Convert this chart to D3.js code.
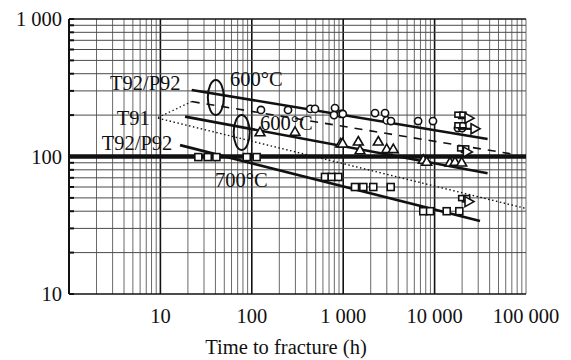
<!DOCTYPE html>
<html><head><meta charset="utf-8">
<script src="https://cdn.jsdelivr.net/npm/d3@7"></script>
<style>
html,body{margin:0;padding:0;background:#fff;}
svg text{font-family:"Liberation Serif","Times New Roman",serif;fill:#111;}
</style></head>
<body><svg id="c" width="571" height="360"></svg>
<script>
// ---- data ----
const xTickValues = [10, 100, 1000, 10000, 100000];
const xTickLabels = ["10", "100", "1 000", "10 000", "100 000"];
const yTickValues = [10, 100, 1000];
const yTickLabels = ["10", "100", "1 000"];
const xTitle = "Time to fracture (h)";

// fitted lines [x, y]
const lineP92_600 = [[22, 305], [38000, 134]];
const lineT91_600 = [[22, 251], [72000, 104]];
const lineT91_650 = [[9.4, 190], [98000, 42]];
const leaderT91 = [[9.4, 192], [22, 251]];
const lineP92_650 = [[18.6, 195], [38000, 75.5]];
const lineP92_700 = [[16.4, 121], [31400, 34]];
const refStress = 100;

// test points [hours, MPa]
const circles = [[126,218],[249,218],[437,222],[491,222],[813,225],[793,200],[950,204],[990,204],[2230,207],[2870,207],[3000,183],[3330,181],[6600,181],[9600,181],[18000,161],[20000,161]];
const triangles = [[123,146],[297,147],[940,121],[985,121],[1463,125],[1527,108],[2421,125],[2992,110],[3533,110],[7520,92],[8200,89],[14740,88],[16720,89],[19790,88]];
const squares = [[26,99],[33,99],[41,99],[88,99],[113,99],[632,71],[748,71],[884,71],[1346,60],[1660,60],[2134,60],[3310,60],[7520,40],[8910,40],[13560,40],[18630,40]];
// running tests: [start h, arrow h, MPa]
const runStarts = [18000, 18000, 19300, 19800];
const runEnds = [28400, 24400, 23400, 24400];
const runStress = [159, 190, 108, 47];

// annotations
const labelTexts = ["T92/P92", "600°C", "T91", "600°C", "T92/P92", "700°C"];
const labelX = [2.81, 57.7, 3.33, 122.9, 2.28, 39.6];
const labelY = [304.5, 325.6, 169.5, 155.9, 111.5, 60.0];
const ellipseX = [40.4, 77.5];
const ellipseY = [268.6, 149.5];

// ---- drawing ----
const svg = d3.select("#c");
const x = d3.scaleLog().domain([1, 100000]).range([69, 526]);
const y = d3.scaleLog().domain([10, 1000]).range([294, 19]);
const FS = 20.5;

const grid = svg.append("g");
// vertical grid
const xMinor = [];
for (let d = 1; d < 100000; d *= 10) for (let k = 1; k <= 9; k++) xMinor.push(d * k);
xMinor.push(100000);
grid.selectAll("line.vx").data(xMinor).join("line")
  .attr("x1", d => x(d)).attr("x2", d => x(d))
  .attr("y1", y(10)).attr("y2", y(1000))
  .attr("stroke", d => (Math.log10(d) % 1 === 0 && d > 1 && d < 100000) ? "#111" : "#6a6a6a")
  .attr("stroke-width", d => (Math.log10(d) % 1 === 0 && d > 1 && d < 100000) ? 1.6 : 1);
// horizontal grid
const yMinor = [];
for (let d = 10; d < 1000; d *= 10) for (let k = 1; k <= 9; k++) yMinor.push(d * k);
yMinor.push(1000);
grid.selectAll("line.hy").data(yMinor).join("line")
  .attr("x1", x(1)).attr("x2", x(100000))
  .attr("y1", d => y(d)).attr("y2", d => y(d))
  .attr("stroke", d => (d === 10 || d === 1000) ? "#111" : "#4a4a4a")
  .attr("stroke-width", d => (d === 10 || d === 1000) ? 1.6 : 1);
// left axis with inward ticks
grid.append("line").attr("x1", x(1)).attr("x2", x(1)).attr("y1", y(10)).attr("y2", y(1000))
  .attr("stroke", "#111").attr("stroke-width", 2);
grid.selectAll("line.tk").data(yMinor).join("line")
  .attr("x1", x(1)).attr("x2", x(1) + 5)
  .attr("y1", d => y(d)).attr("y2", d => y(d))
  .attr("stroke", "#111").attr("stroke-width", 2);
// reference stress line
svg.append("line").attr("x1", x(1)).attr("x2", x(100000))
  .attr("y1", y(refStress)).attr("y2", y(refStress))
  .attr("stroke", "#111").attr("stroke-width", 4.5);

// tick labels
svg.selectAll("text.xt").data(xTickValues).join("text")
  .attr("x", d => x(d)).attr("y", 323).attr("text-anchor", "middle")
  .attr("font-size", FS).text((d, i) => xTickLabels[i]);
svg.selectAll("text.yt").data(yTickValues).join("text")
  .attr("x", 62).attr("y", d => y(d) + 7).attr("text-anchor", "end")
  .attr("font-size", FS).text((d, i) => yTickLabels[i]);
svg.append("text").attr("x", 286).attr("y", 354).attr("text-anchor", "middle")
  .attr("font-size", FS).text(xTitle);

// lines
const lg = d3.line().x(d => x(d[0])).y(d => y(d[1]));
const drawLine = (data, w, dash) => svg.append("path").datum(data).attr("d", lg)
  .attr("fill", "none").attr("stroke", "#111").attr("stroke-width", w)
  .attr("stroke-dasharray", dash);
drawLine(lineP92_600, 2.6, null);
drawLine(lineT91_600, 1.6, "8,7");
drawLine(lineT91_650, 1.4, "1.5,2.5");
drawLine(leaderT91, 1.2, "1.5,2.5");
drawLine(lineP92_650, 2.6, null);
drawLine(lineP92_700, 2.6, null);

// markers
const mk = svg.append("g").attr("fill", "#fff").attr("stroke", "#111").attr("stroke-width", 1.6);
mk.selectAll("circle").data(circles).join("circle")
  .attr("cx", d => x(d[0])).attr("cy", d => y(d[1])).attr("r", 3.6);
const tri = d3.symbol().type(d3.symbolTriangle).size(42);
mk.selectAll("path.tr").data(triangles).join("path")
  .attr("d", tri).attr("transform", d => `translate(${x(d[0])},${y(d[1]) - 1})`);
mk.selectAll("rect.sq").data(squares).join("rect")
  .attr("x", d => x(d[0]) - 3.5).attr("y", d => y(d[1]) - 3.5)
  .attr("width", 7).attr("height", 7);
// running tests
runStarts.forEach((s, i) => {
  const y0 = y(runStress[i]), xa = x(s), xb = x(runEnds[i]);
  mk.append("rect").attr("x", xa - 3).attr("y", y0 - 6).attr("width", 6).attr("height", 5);
  mk.append("rect").attr("x", xa + 2).attr("y", y0 - 6).attr("width", 6).attr("height", 5);
  mk.append("line").attr("x1", xa).attr("x2", xb - 3).attr("y1", y0).attr("y2", y0).attr("stroke-width", 2.2);
  mk.append("path").attr("d", `M${xb - 5},${y0 - 5}L${xb + 4},${y0}L${xb - 5},${y0 + 5}Z`);
});

// ellipses
svg.selectAll("ellipse").data(ellipseX).join("ellipse")
  .attr("cx", d => x(d)).attr("cy", (d, i) => y(ellipseY[i]))
  .attr("rx", 8).attr("ry", 17.5)
  .attr("fill", "none").attr("stroke", "#111").attr("stroke-width", 2);

// labels
svg.selectAll("text.lb").data(labelTexts).join("text")
  .attr("x", (d, i) => x(labelX[i])).attr("y", (d, i) => y(labelY[i]))
  .attr("font-size", FS).text(d => d);
</script></body></html>
